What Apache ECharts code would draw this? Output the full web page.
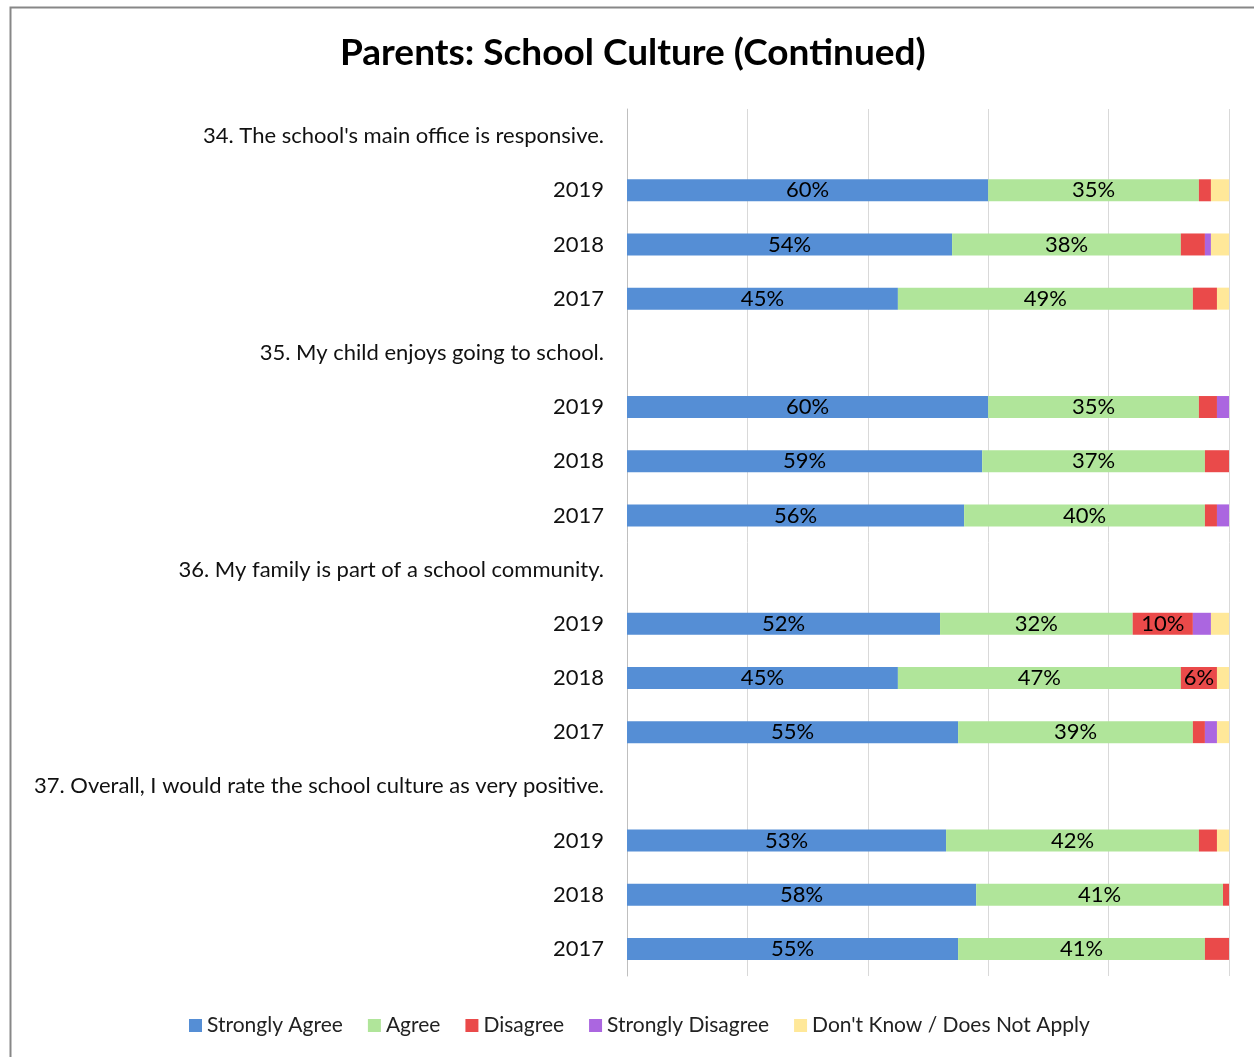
<!DOCTYPE html>
<html>
<head>
<meta charset="utf-8">
<style>
  html, body { margin: 0; padding: 0; background: #fff; }
  #chart { width: 1254px; height: 1057px; }
</style>
<script src="https://cdn.jsdelivr.net/npm/echarts@6/dist/echarts.min.js"></script>
</head>
<body>
<div id="chart"></div>
<script>
// Rows from top to bottom: each question heading followed by its three survey years.
const categories = [
  "34. The school's main office is responsive.", "2019", "2018", "2017",
  "35. My child enjoys going to school.", "2019 ", "2018 ", "2017 ",
  "36. My family is part of a school community.", "2019  ", "2018  ", "2017  ",
  "37. Overall, I would rate the school culture as very positive.", "2019   ", "2018   ", "2017   "
];

// Percent of parents per response (heading rows carry no bar).
const stronglyAgree    = [null, 60, 54, 45, null, 60, 59, 56, null, 52, 45, 55, null, 53, 58, 55];
const agree            = [null, 35, 38, 49, null, 35, 37, 40, null, 32, 47, 39, null, 42, 41, 41];
const disagree         = [null,  2,  4,  4, null,  3,  4,  2, null, 10,  6,  2, null,  3,  1,  4];
const stronglyDisagree = [null,  0,  1,  0, null,  2,  0,  2, null,  3,  0,  2, null,  0,  0,  0];
const dontKnow         = [null,  3,  3,  2, null,  0,  0,  0, null,  3,  2,  2, null,  2,  0,  0];

const seriesNames = ["Strongly Agree", "Agree", "Disagree", "Strongly Disagree", "Don't Know / Does Not Apply"];
const seriesColors = ["#558ED5", "#B0E59A", "#EA4A4A", "#AB66E0", "#FFE899"];
const seriesData = [stronglyAgree, agree, disagree, stronglyDisagree, dontKnow];

const FONT = "Lato, 'Open Sans', sans-serif";

const chart = echarts.init(document.getElementById('chart'), null, { renderer: 'canvas' });

chart.setOption({
  backgroundColor: '#ffffff',
  animation: false,
  title: {
    text: 'Parents: School Culture (Continued)',
    left: 340,
    top: 35,
    padding: 0,
    textStyle: { fontFamily: FONT, fontSize: 37, fontWeight: 'bold', color: '#000' }
  },
  graphic: [{
    type: 'rect',
    shape: { x: 10.5, y: 7.5, width: 1300, height: 1100 },
    style: { fill: 'none', stroke: '#878787', lineWidth: 2 },
    silent: true
  }],
  legend: {
    bottom: 21,
    left: 189,
    padding: 0,
    itemWidth: 13,
    itemHeight: 13,
    itemGap: 25,
    icon: 'rect',
    textStyle: { fontFamily: FONT, fontSize: 21, color: '#222' },
    data: seriesNames
  },
  grid: { left: 627, right: 25, top: 109, bottom: 81, containLabel: false },
  xAxis: {
    type: 'value',
    min: 0,
    max: 100,
    interval: 20,
    axisLabel: { show: false },
    axisLine: { show: false },
    axisTick: { show: false },
    splitLine: { show: true, lineStyle: { color: '#D9D9D9', width: 1 } }
  },
  yAxis: {
    type: 'category',
    inverse: true,
    data: categories,
    axisLine: { show: true, lineStyle: { color: '#BFBFBF', width: 1 } },
    axisTick: { show: false },
    axisLabel: {
      margin: 23,
      fontFamily: FONT,
      fontSize: 22,
      color: '#111',
      formatter: v => v.trim()
    }
  },
  series: seriesData.map((d, i) => ({
    name: seriesNames[i],
    type: 'bar',
    stack: 'total',
    barWidth: 22,
    data: d,
    itemStyle: { color: seriesColors[i] },
    label: {
      show: true,
      position: 'inside',
      fontFamily: FONT,
      fontSize: 22,
      color: '#000',
      formatter: p => (p.value != null && p.value >= 5) ? p.value + '%' : ''
    }
  }))
});
</script>
</body>
</html>
